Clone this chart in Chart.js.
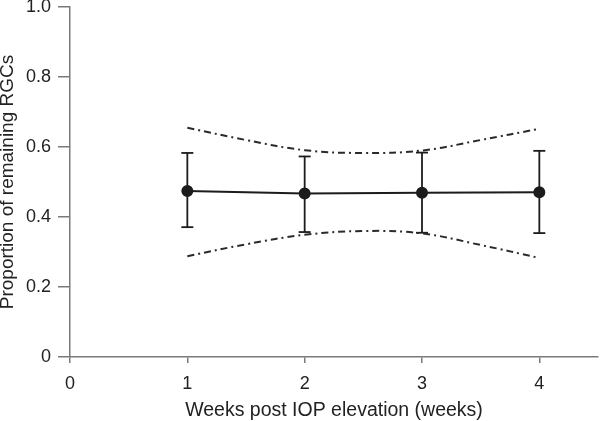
<!DOCTYPE html>
<html>
<head>
<meta charset="utf-8">
<script src="https://cdn.jsdelivr.net/npm/chart.js@4/dist/chart.umd.min.js"></script>
<style>
  body { margin: 0; background: #fff; }
  #wrap { width: 600px; height: 421px; }
</style>
</head>
<body>
<div id="wrap"><canvas id="rgc-chart" width="600" height="421"></canvas></div>
<script>
// Data
const weeks = [1, 2, 3, 4];
const meanProportion = [0.474, 0.467, 0.469, 0.471];
const errorHigh = [0.583, 0.573, 0.584, 0.589];
const errorLow = [0.371, 0.357, 0.355, 0.354];

// dashed confidence band
const bandWeeks = [1, 1.5, 2, 2.5, 3, 3.5, 4];
const bandUpper = [0.655, 0.620, 0.591, 0.583, 0.590, 0.620, 0.652];
const bandLower = [0.288, 0.322, 0.349, 0.360, 0.353, 0.320, 0.283];

const xTicks = [0, 1, 2, 3, 4];
const yTicks = [0, 0.2, 0.4, 0.6, 0.8, 1.0];

const ink = '#1c1c1c';
const axisGrey = '#7a7a7a';

Chart.defaults.font.family = '"Liberation Sans", Arial, sans-serif';
Chart.defaults.color = '#222';

function toPoints(xs, ys) {
  return xs.map((x, i) => ({ x: x, y: ys[i] }));
}

const bandStyle = {
  borderColor: '#2a2a2a',
  borderWidth: 2,
  borderDash: [7, 4, 2, 4],
  pointRadius: 0,
  showLine: true,
  tension: 0.4,
  fill: false,
};

const datasets = [
  Object.assign({ data: toPoints(bandWeeks, bandUpper) }, bandStyle),
  Object.assign({ data: toPoints(bandWeeks, bandLower) }, bandStyle),
];

// one small dataset per error bar, caps drawn as 'line' point style
weeks.forEach((w, i) => {
  datasets.push({
    data: [{ x: w, y: errorLow[i] }, { x: w, y: errorHigh[i] }],
    borderColor: ink,
    borderWidth: 1.8,
    pointStyle: 'line',
    pointRadius: 6,
    pointBorderWidth: 1.8,
    pointBorderColor: ink,
    showLine: true,
  });
});

datasets.push({
  data: toPoints(weeks, meanProportion),
  borderColor: ink,
  borderWidth: 2,
  backgroundColor: ink,
  pointRadius: 5,
  pointBackgroundColor: ink,
  pointBorderColor: ink,
  showLine: true,
  tension: 0,
});

const ctx = document.getElementById('rgc-chart').getContext('2d');
const config = {
  type: 'scatter',
  data: { datasets: datasets },
  options: {
    responsive: false,
    animation: false,
    layout: { autoPadding: false, padding: { top: 7, right: 2, left: 0, bottom: 0 } },
    plugins: { legend: { display: false }, tooltip: { enabled: false } },
    scales: {
      x: {
        type: 'linear',
        min: 0,
        max: 4.5,
        afterBuildTicks: scale => {
          scale.ticks = xTicks.map(v => ({ value: v }));
        },
        afterFit: scale => {
          scale.height = 64;
          scale.paddingLeft = 0;
          scale.paddingRight = 0;
        },
        ticks: {
          padding: 10,
          font: { size: 18 },
          callback: v => String(v),
        },
        grid: { drawOnChartArea: false, tickLength: 6, color: axisGrey, lineWidth: 1.5 },
        border: { color: axisGrey, width: 1.5 },
        title: {
          display: true,
          text: 'Weeks post IOP elevation (weeks)',
          font: { size: 19.5, lineHeight: 1.1 },
          padding: { top: 0, bottom: 0 },
        },
      },
      y: {
        type: 'linear',
        min: 0,
        max: 1,
        afterBuildTicks: scale => {
          scale.ticks = yTicks.map(v => ({ value: v }));
        },
        afterFit: scale => {
          scale.width = 70;
          scale.paddingTop = 0;
          scale.paddingBottom = 0;
        },
        ticks: {
          padding: 7,
          font: { size: 18 },
          callback: v => (v === 0 ? '0' : v.toFixed(1)),
        },
        grid: { drawOnChartArea: false, tickLength: 12, color: axisGrey, lineWidth: 1.5 },
        border: { color: axisGrey, width: 1.5 },
        title: {
          display: true,
          text: 'Proportion of remaining RGCs',
          font: { size: 19, lineHeight: 0.85 },
          padding: { top: 0, bottom: 0 },
        },
      },
    },
  },
};
const rgcChart = new Chart(ctx, config);
</script>
</body>
</html>
